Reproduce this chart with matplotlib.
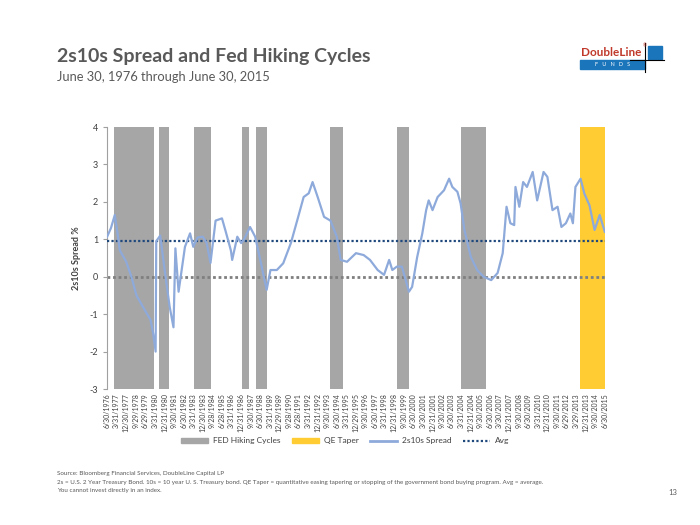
import matplotlib
matplotlib.use('Agg')
import matplotlib.pyplot as plt
import matplotlib.patches as mpatches
from matplotlib.lines import Line2D
import pandas as pd
import numpy as np

plt.rcParams['font.family'] = ['Lato', 'DejaVu Sans']
plt.rcParams['axes.unicode_minus'] = False

# 2s10s spread (%), decimal years
spread_years = [1976.5, 1976.8, 1977.1, 1977.3, 1977.5, 1978.0, 1978.4, 1978.8, 1979.3, 1979.9,
                1980.1, 1980.3, 1980.35, 1980.66, 1981.0, 1981.4, 1981.7, 1981.85, 1982.1, 1982.6,
                1983.0, 1983.25, 1983.6, 1984.0, 1984.3, 1984.6, 1985.0, 1985.5, 1985.8, 1986.2,
                1986.3, 1986.7, 1987.0, 1987.2, 1987.7, 1988.1, 1988.5, 1989.0, 1989.3, 1989.8,
                1990.3, 1990.9, 1991.4, 1991.9, 1992.3, 1992.6, 1993.0, 1993.5, 1994.0, 1994.5,
                1994.8, 1995.3, 1996.0, 1996.6, 1997.1, 1997.7, 1998.2, 1998.6, 1998.85, 1999.2,
                1999.6, 2000.15, 2000.4, 2000.8, 2001.2, 2001.5, 2001.7, 2002.0, 2002.4, 2002.9,
                2003.3, 2003.55, 2003.95, 2004.2, 2004.5, 2005.0, 2005.5, 2006.0, 2006.6, 2007.1,
                2007.5, 2007.8, 2008.1, 2008.4, 2008.5, 2008.8, 2009.1, 2009.4, 2009.85, 2010.2,
                2010.7, 2011.0, 2011.4, 2011.8, 2012.1, 2012.45, 2012.8, 2013.0, 2013.2, 2013.6,
                2013.9, 2014.3, 2014.7, 2015.1, 2015.5]
spread_vals = [1.07, 1.3, 1.65, 1.2, 0.7, 0.4, 0.0, -0.5, -0.8, -1.15,
               -1.5, -2.0, 0.95, 1.1, 0.2, -0.8, -1.35, 0.76, -0.4, 0.8,
               1.16, 0.8, 1.05, 1.07, 0.9, 0.37, 1.5, 1.56, 1.2, 0.7,
               0.45, 1.07, 0.9, 0.98, 1.33, 1.07, 0.45, -0.35, 0.18, 0.18,
               0.36, 0.9, 1.51, 2.13, 2.23, 2.53, 2.13, 1.6, 1.5, 1.07,
               0.45, 0.4, 0.63, 0.58, 0.45, 0.18, 0.05, 0.45, 0.18, 0.27,
               0.27, -0.4, -0.27, 0.53, 1.16, 1.78, 2.04, 1.78, 2.13, 2.31,
               2.62, 2.4, 2.27, 1.96, 1.25, 0.53, 0.18, 0.0, -0.09, 0.1,
               0.63, 1.87, 1.43, 1.38, 2.4, 1.87, 2.53, 2.4, 2.8, 2.04,
               2.8, 2.67, 1.78, 1.87, 1.33, 1.43, 1.69, 1.43, 2.4, 2.62,
               2.22, 1.91, 1.25, 1.65, 1.2]
avg_spread = 0.96

# Fed hiking cycles and QE taper (decimal years)
hike_start = [1977.0, 1980.58, 1983.33, 1987.07, 1988.17, 1994.0, 1999.18, 2004.23]
hike_end = [1980.19, 1981.37, 1984.66, 1987.65, 1989.04, 1994.97, 2000.15, 2006.17]
taper_start = 2013.57
taper_end = 2015.5

tick_labels = ['6/30/1976', '3/31/1977', '12/30/1977', '9/29/1978', '6/29/1979', '3/31/1980',
               '12/31/1980', '9/30/1981', '6/30/1982', '3/31/1983', '12/30/1983', '9/28/1984',
               '6/28/1985', '3/31/1986', '12/31/1986', '9/30/1987', '6/30/1988', '3/31/1989',
               '12/29/1989', '9/28/1990', '6/28/1991', '3/31/1992', '12/31/1992', '9/30/1993',
               '6/30/1994', '3/31/1995', '12/29/1995', '9/30/1996', '6/30/1997', '3/31/1998',
               '12/31/1998', '9/30/1999', '6/30/2000', '3/30/2001', '12/31/2001', '9/30/2002',
               '6/30/2003', '3/31/2004', '12/31/2004', '9/30/2005', '6/30/2006', '3/30/2007',
               '12/31/2007', '9/30/2008', '6/30/2009', '3/31/2010', '12/31/2010', '9/30/2011',
               '6/29/2012', '3/29/2013', '12/31/2013', '9/30/2014', '6/30/2015']

d = pd.to_datetime(tick_labels, format='%m/%d/%Y')
tick_pos = d.year + d.dayofyear / 365.25

fig = plt.figure(figsize=(7, 5.25), dpi=100)
ax = fig.add_axes([0.153, 0.259, 0.711, 0.499])

for s, e in zip(hike_start, hike_end):
    ax.axvspan(s, e, color='#A6A6A6', lw=0, zorder=1)
ax.axvspan(taper_start, taper_end, color='#FFCC33', lw=0, zorder=1)

ax.plot([1976.5, 2015.5], [0, 0], color='#7F7F7F', lw=2, ls=(0, (1, 1)), zorder=2)
ax.plot([1976.5, 2015.5], [avg_spread, avg_spread], color='#1F497D', lw=1.6, ls=(0, (1, 1)), zorder=3)
ax.plot(spread_years, spread_vals, color='#8EAADB', lw=1.6, zorder=4)

ax.set_xlim(1976.5, 2015.5)
ax.set_ylim(-3, 4)
ax.set_yticks(range(-3, 5))
ax.set_xticks(tick_pos)
ax.set_xticklabels(tick_labels, rotation=90, fontsize=5, color='#404040')
ax.tick_params(axis='x', length=0, pad=3)
ax.tick_params(axis='y', labelsize=6.5, colors='#404040', length=3, color='#A0A0A0')
for side in ['top', 'right', 'bottom']:
    ax.spines[side].set_visible(False)
ax.spines['left'].set_color('#A0A0A0')
ax.set_ylabel('2s10s Spread %', fontsize=6.5, fontweight='bold', color='#404040', labelpad=6)

handles = [mpatches.Patch(color='#A6A6A6', label='FED Hiking Cycles'),
           mpatches.Patch(color='#FFCC33', label='QE Taper'),
           Line2D([], [], color='#8EAADB', lw=2, label='2s10s Spread'),
           Line2D([], [], color='#1F497D', lw=1.6, ls=(0, (1, 1)), label='Avg')]
fig.legend(handles=handles, loc='center', bbox_to_anchor=(0.493, 0.16), ncol=4, frameon=False,
           fontsize=6, handlelength=3.2, handleheight=0.6, handletextpad=0.6, columnspacing=1.4,
           labelcolor='#404040')

fig.text(0.081, 0.882, '2s10s Spread and Fed Hiking Cycles', fontsize=14, fontweight='bold', color='#595959')
fig.text(0.081, 0.846, 'June 30, 1976 through June 30, 2015', fontsize=9.3, color='#595959')

# logo
fig.text(0.83, 0.9, 'DoubleLine', fontsize=8.5, fontweight='bold', color='#C0392B', va='center')
fig.text(0.918, 0.912, '®', fontsize=3.5, color='#C0392B', va='center')
fig.patches.append(mpatches.Rectangle((0.828, 0.868), 0.094, 0.018, transform=fig.transFigure, color='#1B75BB'))
fig.text(0.875, 0.877, 'F   U   N   D   S', fontsize=4, color='white', ha='center', va='center')
fig.patches.append(mpatches.Rectangle((0.925, 0.888), 0.02, 0.024, transform=fig.transFigure, color='#1B75BB'))
fig.lines.append(Line2D([0.922, 0.922], [0.862, 0.918], transform=fig.transFigure, color='black', lw=0.8))
fig.lines.append(Line2D([0.9, 0.948], [0.885, 0.885], transform=fig.transFigure, color='black', lw=0.8))

fig.text(0.081, 0.095, 'Source: Bloomberg Financial Services, DoubleLine Capital LP', fontsize=4.5, color='#595959')
fig.text(0.081, 0.079, '2s = U.S. 2 Year Treasury Bond. 10s = 10 year U. S. Treasury bond. QE Taper = quantitative easing tapering or stopping of the government bond buying program. Avg = average.',
         fontsize=4.5, color='#595959')
fig.text(0.081, 0.063, 'You cannot invest directly in an index.', fontsize=4.5, color='#595959')
fig.text(0.955, 0.058, '13', fontsize=5.5, color='#595959')

fig.savefig('out.png', dpi=100)
